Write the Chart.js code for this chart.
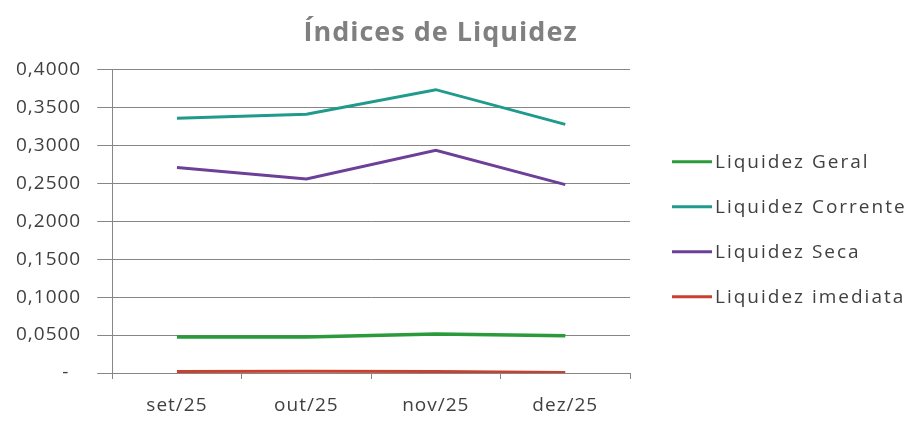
<!DOCTYPE html>
<html>
<head>
<meta charset="utf-8">
<script src="https://cdn.jsdelivr.net/npm/chart.js@4.4.1/dist/chart.umd.min.js"></script>
<style>
  html, body { margin: 0; padding: 0; background: #ffffff; }
  #wrap { width: 909px; height: 421px; position: relative; }
</style>
</head>
<body>
<div id="wrap"><canvas id="c"></canvas></div>
<script>
const title = 'Índices de Liquidez';
const categories = ['set/25', 'out/25', 'nov/25', 'dez/25'];
const seriesNames = ['Liquidez Geral', 'Liquidez Corrente', 'Liquidez Seca', 'Liquidez imediata'];
const liquidezGeral = [0.0474, 0.0474, 0.0515, 0.0490];
const liquidezCorrente = [0.3355, 0.3410, 0.3733, 0.3276];
const liquidezSeca = [0.2706, 0.2555, 0.2934, 0.2482];
const liquidezImediata = [0.0020, 0.0022, 0.0020, 0.0005];
const yMin = 0, yMax = 0.4, yStep = 0.05;

const colors = ['#2A9A3A', '#1F9A8C', '#6C3F98', '#C8402E'];
const seriesData = [liquidezGeral, liquidezCorrente, liquidezSeca, liquidezImediata];

const FONT = '"Open Sans", "Liberation Sans", sans-serif';

const spacingPlugin = {
  id: 'spacing',
  beforeLayout(chart) { chart.ctx.letterSpacing = '1px'; },
  beforeDraw(chart) { chart.ctx.letterSpacing = '1px'; }
};

// Legend on the right, drawn from the chart's datasets, occupying a layout box
const sideLegendPlugin = {
  id: 'sideLegend',
  beforeInit(chart) {
    const box = {
      position: 'right',
      weight: 1000,
      fullSize: false,
      options: { display: true },
      top: 0, left: 0, right: 0, bottom: 0, width: 0, height: 0,
      update(maxWidth, maxHeight) { this.width = 251; this.height = maxHeight; },
      isHorizontal() { return false; },
      draw() {
        const ctx = chart.ctx;
        const area = chart.chartArea;
        const cy = (area.top + area.bottom) / 2 + 8;
        const gap = 45;
        const x0 = this.left + 42;
        ctx.save();
        ctx.letterSpacing = '2px';
        ctx.font = '19px ' + FONT;
        ctx.textBaseline = 'middle';
        ctx.textAlign = 'left';
        const ds = chart.data.datasets;
        ds.forEach((d, i) => {
          const y = cy + (i - (ds.length - 1) / 2) * gap;
          ctx.strokeStyle = d.borderColor;
          ctx.lineWidth = 3;
          ctx.beginPath();
          ctx.moveTo(x0, y);
          ctx.lineTo(x0 + 40, y);
          ctx.stroke();
          ctx.fillStyle = '#404040';
          ctx.fillText(d.label, x0 + 43, y + 1);
        });
        ctx.restore();
      }
    };
    Chart.layouts.addBox(chart, box);
  }
};

new Chart(document.getElementById('c'), {
  type: 'line',
  data: {
    labels: categories,
    datasets: seriesNames.map((n, i) => ({
      label: n,
      data: seriesData[i],
      borderColor: colors[i],
      backgroundColor: colors[i],
      borderWidth: i === 0 ? 3.5 : 3,
      pointRadius: 0,
      pointHoverRadius: 0,
      tension: 0,
      fill: false
    }))
  },
  options: {
    responsive: true,
    maintainAspectRatio: false,
    animation: false,
    layout: { padding: { left: 0, right: 28, top: 0, bottom: 0 } },
    plugins: {
      title: {
        display: true,
        text: title,
        color: '#808080',
        font: { family: FONT, size: 27, weight: 'bold' },
        padding: { top: 17, bottom: 20 }
      },
      legend: { display: false },
      tooltip: { enabled: false }
    },
    scales: {
      x: {
        offset: true,
        afterFit(scale) { scale.height = 48; },
        grid: { offset: true, drawOnChartArea: false, drawTicks: true, tickLength: 6, color: '#868686' },
        border: { display: true, color: '#868686' },
        ticks: { color: '#404040', font: { family: FONT, size: 19 }, padding: 15, maxRotation: 0 }
      },
      y: {
        min: yMin,
        max: yMax,
        grid: { color: '#868686', tickLength: 15, drawTicks: true },
        border: { display: true, color: '#868686' },
        ticks: {
          stepSize: yStep,
          color: '#404040',
          font: { family: FONT, size: 19 },
          padding: 16,
          callback: v => Math.abs(v) < 1e-9 ? '-  ' : v.toFixed(4).replace('.', ',')
        }
      }
    }
  },
  plugins: [spacingPlugin, sideLegendPlugin]
});
</script>
</body>
</html>
